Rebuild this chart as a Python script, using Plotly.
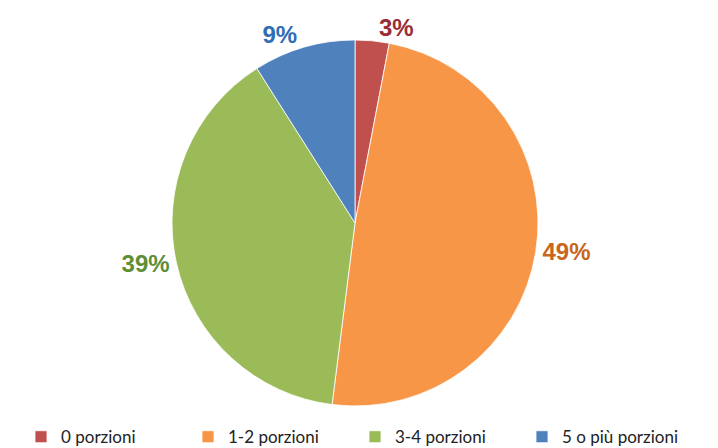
import plotly.graph_objects as go

labels = ["0 porzioni", "1-2 porzioni", "3-4 porzioni", "5 o più porzioni"]
values = [3, 49, 39, 9]
slice_colors = ["#C0504D", "#F79646", "#9BBB59", "#4F81BD"]
text_colors = ["#9B2C33", "#C8661E", "#5E8E35", "#2F6DB5"]

fig = go.Figure(go.Pie(
    labels=labels,
    values=values,
    sort=False,
    direction="clockwise",
    rotation=0,
    marker=dict(colors=slice_colors, line=dict(color="white", width=0.8)),
    textinfo="percent",
    texttemplate="%{percent:.0%}",
    textposition="outside",
    outsidetextfont=dict(family="Liberation Sans, Arial", size=24, color=text_colors, weight="bold"),
    hoverinfo="label+percent",
    showlegend=True,
))

fig.update_layout(
    width=718, height=448,
    margin=dict(l=0, r=24, t=32, b=50, autoexpand=False),
    paper_bgcolor="white",
    plot_bgcolor="white",
    legend=dict(
        orientation="h",
        x=0.5, xanchor="center",
        y=-0.036, yanchor="top",
        font=dict(family="Lato, sans-serif", size=17, color="#222222"),
        entrywidth=122,
        itemwidth=30,
        tracegroupgap=0,
    ),
)

fig.write_html("out.html")
